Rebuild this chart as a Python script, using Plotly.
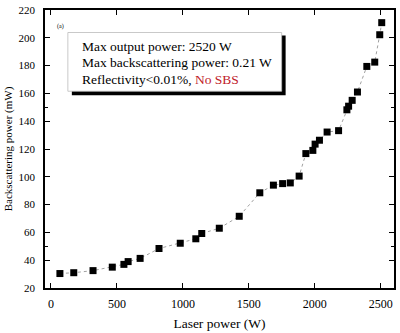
import plotly.graph_objects as go

laser_power = [68, 173, 319, 465, 553, 585, 676, 819, 980, 1098, 1143, 1276, 1427,
               1583, 1686, 1756, 1814, 1881, 1932, 1985, 2002, 2035, 2093, 2180,
               2243, 2256, 2283, 2323, 2394, 2454, 2492, 2507]
backscatter = [30.4, 31, 32.5, 35, 37, 39, 41.3, 48.4, 52.2, 55.4, 59.2, 63, 71.6,
               88.5, 94, 95.1, 95.6, 100.5, 116.7, 119, 123.5, 126.3, 132.2, 133.2,
               148.2, 150.8, 155, 161, 179.4, 182.5, 202.2, 210.9]

x_ticks = [0, 500, 1000, 1500, 2000, 2500]
y_ticks = [20, 40, 60, 80, 100, 120, 140, 160, 180, 200, 220]

serif = "Liberation Serif"

fig = go.Figure()
fig.add_trace(go.Scatter(
    x=laser_power, y=backscatter, mode="lines+markers",
    line=dict(color="#888888", width=0.8, dash="dot"),
    marker=dict(symbol="square", size=7, color="black"),
    showlegend=False,
))

axis_common = dict(
    showline=True, linecolor="black", linewidth=1.5, mirror="allticks",
    ticks="inside", ticklen=5, tickwidth=1, tickcolor="black",
    showgrid=False, zeroline=False,
    minor=dict(ticks="inside", ticklen=3, tickcolor="black", tickwidth=1, nticks=2),
)

fig.update_xaxes(range=[-45, 2600], tickvals=x_ticks,
                 tickfont=dict(family=serif, size=12, color="black"),
                 ticklabelstandoff=4,
                 title=dict(text="Laser power (W)", font=dict(family=serif, size=13.5, color="black"), standoff=8),
                 **axis_common)
fig.update_yaxes(range=[20, 220], tickvals=y_ticks,
                 tickfont=dict(family=serif, size=11, color="black"),
                 ticklabelstandoff=6,
                 title=dict(text="Backscattering power (mW)", font=dict(family=serif, size=11, color="black"), standoff=4),
                 **axis_common)

# annotation box with shadow (paper coords)
W, H = 351, 284
def px(x): return (x - 45) / W
def py(y): return 1 - (y - 7) / H

fig.add_shape(type="rect", xref="paper", yref="paper",
              x0=px(72), x1=px(287), y0=py(94), y1=py(33),
              fillcolor="black", line=dict(width=0), layer="above")
fig.add_shape(type="rect", xref="paper", yref="paper",
              x0=px(68), x1=px(283), y0=py(90), y1=py(30),
              fillcolor="white", line=dict(color="#bbbbbb", width=0.8), layer="above")

lines = ["Max output power: 2520 W",
         "Max backscattering power: 0.21 W",
         "Reflectivity&lt;0.01%, <span style='color:#c0202a'>No SBS</span>"]
for i, t in enumerate(lines):
    fig.add_annotation(xref="paper", yref="paper", x=px(80), y=py(44 + 17 * i),
                       text=t, showarrow=False, xanchor="left", yanchor="middle",
                       font=dict(family=serif, size=13.5, color="black"))

fig.add_annotation(xref="paper", yref="paper", x=px(55), y=py(24), text="(a)",
                   showarrow=False, xanchor="left", yanchor="middle",
                   font=dict(family=serif, size=6, color="black"))

fig.update_layout(
    width=400, height=333,
    margin=dict(l=45, r=4, t=7, b=42),
    paper_bgcolor="white", plot_bgcolor="white",
)

fig.write_html("out.html")
